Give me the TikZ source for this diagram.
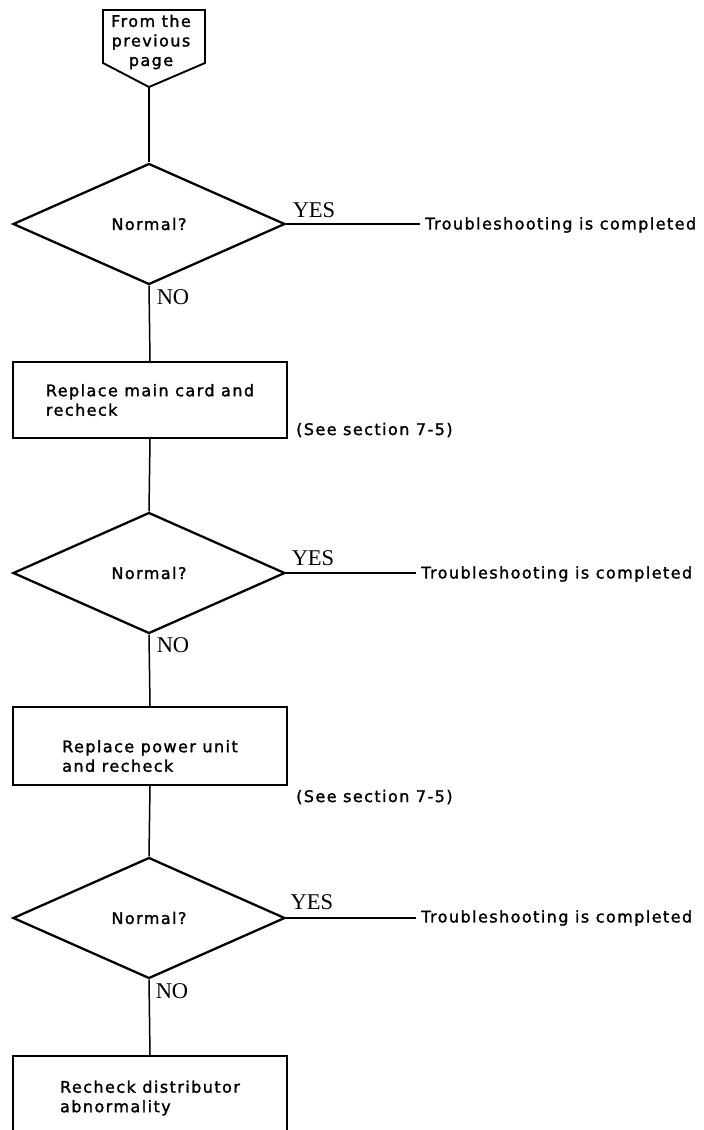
\documentclass[tikz,border=0pt]{standalone}
\usepackage{fontspec}
\usetikzlibrary{shapes.geometric}
\newfontfamily\sansf[LetterSpace=9,FakeBold=1.6]{DejaVu Sans}
\newfontfamily\seriff{Liberation Serif}
\begin{document}
\begin{tikzpicture}[x=1pt,y=-1pt,
  every node/.style={inner sep=0pt},
  txt/.style={font=\sansf\fontsize{16}{19.5}\selectfont},
  yn/.style={font=\seriff\fontsize{22.5}{24}\selectfont},
  dec/.style={diamond, draw, line width=2.3pt, minimum width=272pt, minimum height=121pt, aspect=2.23, inner sep=0pt, txt},
  stepbox/.style={draw, rectangle, line width=1.9pt, minimum width=274pt, align=left, txt},
  conn/.style={line width=1.5pt}]
\useasboundingbox (0,0) rectangle (704,1130);

% off-page connector
\draw[line width=1.9pt] (103,10) -- (205,10) -- (205,63) -- (149,87) -- (103,63) -- cycle;
\node[txt, align=center] (from) at (151,42) {From the\\previous\\page};
\coordinate (fromtip) at (149,87);

% decision 1
\node[dec] (d1) at (149,224) {Normal?};
\draw[conn] (fromtip) -- (d1.north);
\node[yn] (yes1) at (314,210) {YES};
\node[txt, anchor=west] (done1) at (425,225) {Troubleshooting is completed};
\draw[conn, shorten >=5pt] (d1.east) -- (d1.east -| done1.west);
\node[yn] (no1) at (173,297) {NO};

% step 1
\node[stepbox, minimum height=76pt] (b1) at (150,400) {Replace main card and\\recheck};
\draw[conn] (d1.south) -- (b1.north);
\node[txt, anchor=west] (see1) at (296,430) {(See section 7-5)};

% decision 2
\node[dec] (d2) at (149,573) {Normal?};
\draw[conn] (b1.south) -- (d2.north);
\node[yn] (yes2) at (313,558) {YES};
\node[txt, anchor=west] (done2) at (421,574) {Troubleshooting is completed};
\draw[conn, shorten >=5pt] (d2.east) -- (d2.east -| done2.west);
\node[yn] (no2) at (173,645) {NO};

% step 2
\node[stepbox, minimum height=78pt] (b2) at (150,746) {};
\node[txt, align=left] (b2t) at (150,756) {Replace power unit\\and recheck};
\draw[conn] (d2.south) -- (b2.north);
\node[txt, anchor=west] (see2) at (296,797) {(See section 7-5)};

% decision 3
\node[dec] (d3) at (149,918) {Normal?};
\draw[conn] (b2.south) -- (d3.north);
\node[yn] (yes3) at (312,902) {YES};
\node[txt, anchor=west] (done3) at (421,918) {Troubleshooting is completed};
\draw[conn, shorten >=5pt] (d3.east) -- (d3.east -| done3.west);
\node[yn] (no3) at (172,991) {NO};

% step 3
\node[stepbox, minimum height=84pt] (b3) at (150,1098) {Recheck distributor\\abnormality};
\draw[conn] (d3.south) -- (b3.north);
\end{tikzpicture}
\end{document}
